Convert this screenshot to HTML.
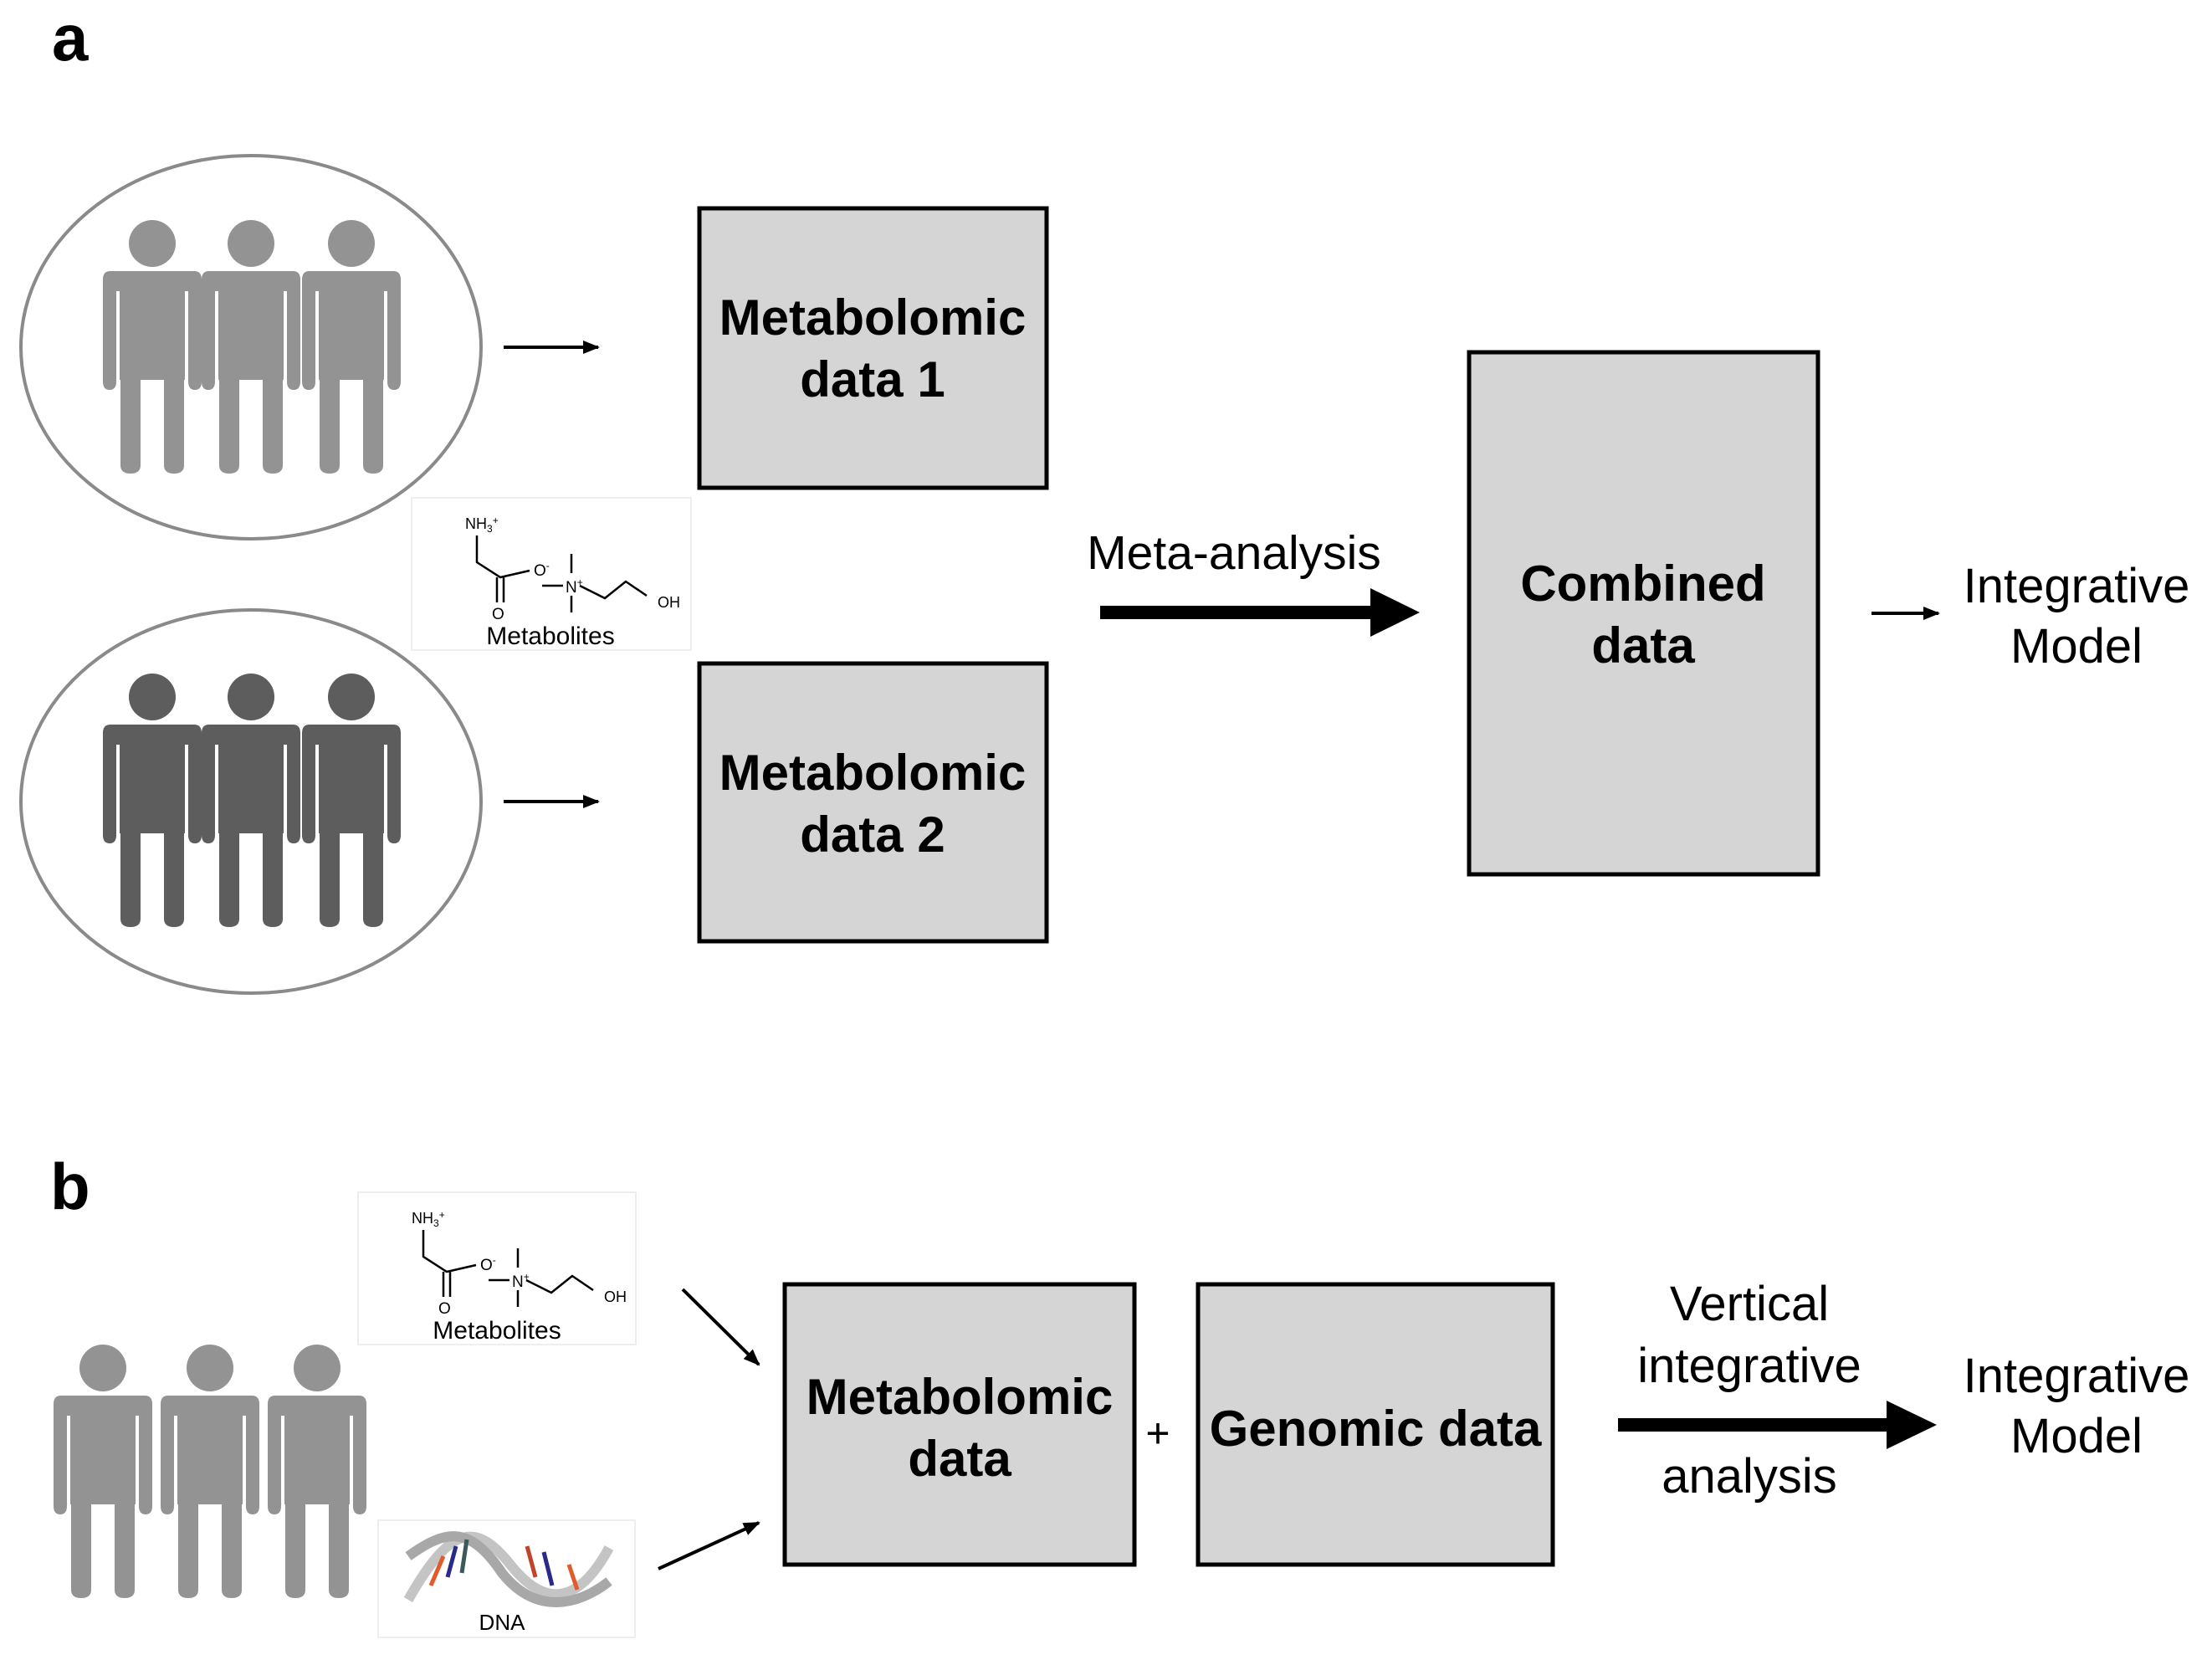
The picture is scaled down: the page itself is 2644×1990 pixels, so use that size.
<!DOCTYPE html>
<html><head><meta charset="utf-8"><style>
html,body{margin:0;padding:0;background:#fff;}
svg{display:block;}
text{font-family:"Liberation Sans",Arial,sans-serif;}
</style></head><body>
<svg width="2644" height="1990" viewBox="0 0 2644 1990" xmlns="http://www.w3.org/2000/svg">
<defs>
<g id="p">
<circle cx="0" cy="27" r="28"/>
<path d="M-50,60 Q-59,60 -59,70 L-59,192 Q-59,202 -51,202 Q-43,202 -43,192 L-43,84 L-39,84 L-39,190 L-38,190 L-38,292 Q-38,302 -26,302 Q-14,302 -14,292 L-14,190 L-3,190 L3,190 L14,190 L14,292 Q14,302 26,302 Q38,302 38,292 L38,190 L39,190 L39,84 L43,84 L43,192 Q43,202 51,202 Q59,202 59,192 L59,70 Q59,60 50,60 Z"/>
<rect x="-3" y="190" width="6" height="110" fill="#fff" opacity="0.5"/>
</g>
<marker id="ah" markerWidth="20" markerHeight="16" refX="18" refY="8" orient="auto" markerUnits="userSpaceOnUse"><path d="M0,0 L20,8 L0,16Z"/></marker>
<g id="mol">
<text x="58" y="32" font-size="18">NH<tspan font-size="12" dy="4">3</tspan><tspan font-size="12" dy="-10">+</tspan></text>
<path d="M72,40 L72,72 L100,90 L135,82 M96,90 L96,120 M104,90 L104,120 M150,100 L175,100 M185,62 L185,85 M185,112 L185,132 M195,100 L225,115 L250,95 L275,112" stroke="#000" stroke-width="2.5" fill="none"/>
<text x="140" y="88" font-size="19">O<tspan font-size="12" dy="-8">-</tspan></text>
<text x="178" y="108" font-size="19">N<tspan font-size="12" dy="-8">+</tspan></text>
<text x="288" y="126" font-size="18">OH</text>
<text x="90" y="140" font-size="19">O</text>
<text x="160" y="170" font-size="30" text-anchor="middle">Metabolites</text>
</g>
</defs>

<text x="62" y="72" font-size="78" font-weight="bold">a</text>
<text x="60" y="1445" font-size="78" font-weight="bold">b</text>

<ellipse cx="300" cy="415" rx="275" ry="229" fill="#fff" stroke="#8a8a8a" stroke-width="4"/>
<ellipse cx="300" cy="958" rx="275" ry="229" fill="#fff" stroke="#8a8a8a" stroke-width="4"/>
<g fill="#939393"><use href="#p" x="182" y="264"/><use href="#p" x="300" y="264"/><use href="#p" x="420" y="264"/></g>
<g fill="#5d5d5d"><use href="#p" x="182" y="806"/><use href="#p" x="300" y="806"/><use href="#p" x="420" y="806"/></g>

<line x1="602" y1="415" x2="715" y2="415" stroke="#000" stroke-width="4" marker-end="url(#ah)"/>
<line x1="602" y1="958" x2="715" y2="958" stroke="#000" stroke-width="4" marker-end="url(#ah)"/>

<rect x="492" y="595" width="334" height="182" fill="#fff" stroke="#eee" stroke-width="2"/>
<use href="#mol" x="498" y="600"/>

<rect x="836" y="249" width="415" height="334" fill="#d5d5d5" stroke="#000" stroke-width="5"/>
<text x="1043" y="400" font-size="60" font-weight="bold" text-anchor="middle">Metabolomic</text>
<text x="1043" y="474" font-size="60" font-weight="bold" text-anchor="middle">data 1</text>
<rect x="836" y="793" width="415" height="332" fill="#d5d5d5" stroke="#000" stroke-width="5"/>
<text x="1043" y="944" font-size="60" font-weight="bold" text-anchor="middle">Metabolomic</text>
<text x="1043" y="1018" font-size="60" font-weight="bold" text-anchor="middle">data 2</text>

<text x="1475" y="680" font-size="57" text-anchor="middle">Meta-analysis</text>
<rect x="1315" y="724" width="330" height="16"/>
<path d="M1638,703 L1697,732 L1638,761Z"/>

<rect x="1756" y="421" width="417" height="624" fill="#d5d5d5" stroke="#000" stroke-width="5"/>
<text x="1964" y="718" font-size="60" font-weight="bold" text-anchor="middle">Combined</text>
<text x="1964" y="792" font-size="60" font-weight="bold" text-anchor="middle">data</text>

<line x1="2237" y1="733" x2="2317" y2="733" stroke="#000" stroke-width="4" marker-end="url(#ah)"/>
<text x="2482" y="720" font-size="58" text-anchor="middle">Integrative</text>
<text x="2482" y="792" font-size="58" text-anchor="middle">Model</text>

<!-- panel b -->
<rect x="428" y="1425" width="332" height="182" fill="#fff" stroke="#eee" stroke-width="2"/>
<use href="#mol" x="434" y="1430"/>
<rect x="452" y="1817" width="307" height="140" fill="#fff" stroke="#eee" stroke-width="2"/>
<g fill="none" stroke-width="12">
<path d="M488,1912 C540,1820 570,1820 610,1870 C650,1920 690,1920 728,1850" stroke="#c4c4c4"/>
<path d="M488,1860 C530,1830 560,1820 600,1880 C640,1930 690,1920 728,1890" stroke="#a8a8a8"/>
</g>
<g stroke-width="5"><line x1="515" y1="1895" x2="530" y2="1860" stroke="#e25b2a"/><line x1="535" y1="1885" x2="545" y2="1848" stroke="#2a2a8a"/><line x1="552" y1="1880" x2="558" y2="1840" stroke="#3a5a5a"/><line x1="640" y1="1885" x2="630" y2="1848" stroke="#c0442a"/><line x1="660" y1="1895" x2="650" y2="1855" stroke="#2a2a8a"/><line x1="690" y1="1900" x2="680" y2="1870" stroke="#e25b2a"/></g>
<text x="600" y="1948" font-size="26" text-anchor="middle">DNA</text>

<g fill="#939393"><use href="#p" x="123" y="1608"/><use href="#p" x="251" y="1608"/><use href="#p" x="379" y="1608"/></g>

<line x1="816" y1="1541" x2="907" y2="1631" stroke="#000" stroke-width="4" marker-end="url(#ah)"/>
<line x1="787" y1="1875" x2="907" y2="1820" stroke="#000" stroke-width="4" marker-end="url(#ah)"/>

<rect x="938" y="1535" width="418" height="335" fill="#d5d5d5" stroke="#000" stroke-width="5"/>
<text x="1147" y="1690" font-size="60" font-weight="bold" text-anchor="middle">Metabolomic</text>
<text x="1147" y="1764" font-size="60" font-weight="bold" text-anchor="middle">data</text>
<text x="1384" y="1730" font-size="50" text-anchor="middle">+</text>
<rect x="1432" y="1535" width="424" height="335" fill="#d5d5d5" stroke="#000" stroke-width="5"/>
<text x="1644" y="1728" font-size="60" font-weight="bold" text-anchor="middle">Genomic data</text>

<text x="2091" y="1578" font-size="58" text-anchor="middle">Vertical</text>
<text x="2091" y="1652" font-size="58" text-anchor="middle">integrative</text>
<text x="2091" y="1784" font-size="58" text-anchor="middle">analysis</text>
<rect x="1934" y="1695" width="326" height="16"/>
<path d="M2255,1674 L2315,1703 L2255,1732Z"/>
<text x="2482" y="1664" font-size="58" text-anchor="middle">Integrative</text>
<text x="2482" y="1736" font-size="58" text-anchor="middle">Model</text>
</svg>
</body></html>
